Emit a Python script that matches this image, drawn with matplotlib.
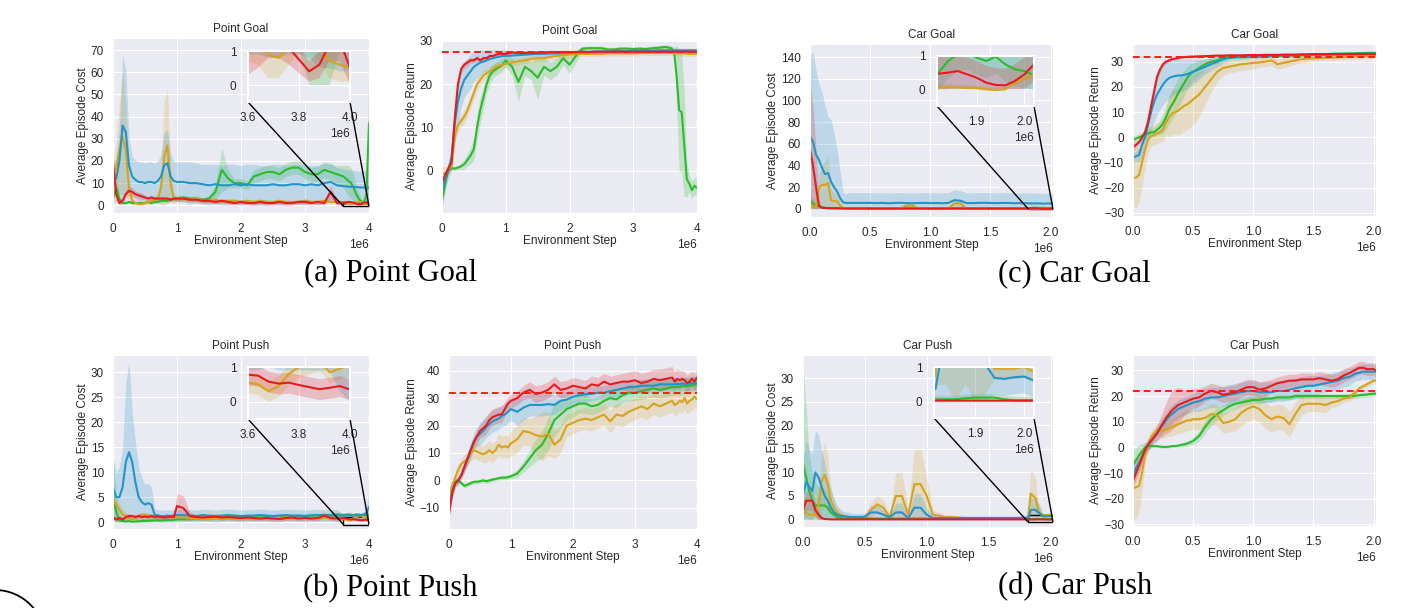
import numpy as np
import matplotlib
matplotlib.use("Agg")
import matplotlib.pyplot as plt
import seaborn as sns
from matplotlib.patches import Ellipse
from mpl_toolkits.axes_grid1.inset_locator import mark_inset

sns.set_style("darkgrid")
plt.rcParams['font.family'] = ['Liberation Sans', 'DejaVu Sans']
plt.rcParams['font.size'] = 8.5
plt.rcParams['axes.labelsize'] = 8.5
plt.rcParams['axes.titlesize'] = 8.5
plt.rcParams['xtick.labelsize'] = 8.5
plt.rcParams['ytick.labelsize'] = 8.5

# ---------------- x grids (in units of 1e6 environment steps) ----------------
X_POINT = np.round(np.r_[np.arange(0, 1.0001, 0.05), np.arange(1.1, 3.5001, 0.1),
                         np.arange(3.6, 4.0001, 0.04)], 3)
X_CAR = np.round(np.r_[np.arange(0, 0.5001, 0.025), np.arange(0.55, 1.8001, 0.05),
                       np.arange(1.82, 2.0201, 0.02)], 3)

# ---------------- Point Goal : cost ----------------
pgc_blue = [15, 12, 20, 36, 33, 18, 13, 11.5, 10.5, 10.5, 10, 10.5, 10.5, 10, 11, 13, 18, 19, 13, 11, 10.5] + \
    [10.5, 10, 10, 9.5, 9, 9.5, 9, 9, 9.5, 9, 9.5, 9, 9, 9, 9.5, 9, 9, 9.5, 9.5, 9, 9.5, 9, 10, 10.5, 9] + \
    [8.6, 8.5, 8.4, 8.3, 8.3, 8.2, 8.1, 8.0, 8.0, 8.0, 8.0]
pgc_blue_hw = [6, 8, 15, 32, 28, 12, 9, 9, 9, 9, 9, 9, 9, 9, 9, 10, 15, 15, 10, 9, 9] + \
    [9, 9.5, 9, 9, 9.5, 9, 9, 9.5, 9, 9, 9, 9.5, 9, 9, 9, 9.5, 9, 9, 9, 9, 8.5, 9, 9, 8.5, 8] + \
    [7.7, 7.6, 7.6, 7.5, 7.4, 7.3, 7.3, 7.5, 7.5, 7.6, 7.6]
pgc_gold = [10, 17, 25, 31, 25, 8, 2, 1, 0.5, 0.5, 1, 1.5, 2, 2.5, 3, 8, 22, 27, 10, 3, 3] + \
    [3, 2.5, 3, 2, 2, 2.5, 1.5, 2, 2, 1.5, 2, 1.5, 2, 1.5, 1.5, 2, 1.5, 1.5, 1.5, 2, 1.5, 1.5, 2, 1.5, 1.5] + \
    [1.3, 1.2, 0.9, 0.8, 1.1, 1.4, 1.5, 1.2, 0.7, 0.6, 0.5]
pgc_gold_hw = [8, 12, 20, 30, 20, 6, 2, 1, 0.5, 0.5, 1, 1, 1.5, 1.5, 2, 8, 25, 26, 8, 2, 1.5] + \
    [1.5, 1.2, 1.5, 1, 1, 1.2, 0.8, 1, 1, 0.8, 1, 0.8, 1, 0.8, 0.8, 1, 0.8, 0.8, 0.8, 1, 0.8, 0.8, 1, 0.8, 0.8] + \
    [0.6, 0.6, 0.7, 0.6, 0.5, 0.5, 0.5, 0.5, 0.5, 0.5, 0.4]
pgc_red = [19, 5, 1, 2, 5, 6.5, 6, 5, 4.5, 4, 3.5, 3, 3.5, 3, 3, 3, 3, 3, 2.5, 3, 3] + \
    [3, 2.5, 2.5, 2, 2, 1.5, 2, 1.5, 1, 1.5, 1, 1, 1.5, 1, 1, 1.5, 1, 1, 1.5, 1.5, 1, 1.5, 1, 6, 1] + \
    [1.2, 1.3, 1.5, 1.4, 1.1, 0.75, 0.4, 0.6, 1.2, 1.3, 0.5]
pgc_red_hw = [3, 3, 1, 1.5, 2, 2, 2, 1.5, 1.5, 1.5, 1, 1, 1, 1, 1, 1, 1, 1, 1, 1, 1] + \
    [1, 1, 1, 1, 1, 1, 1, 1, 1, 1, 1, 1, 1, 1, 1, 1, 1, 1, 1, 1, 1, 1, 1, 3, 1] + \
    [0.9, 0.8, 0.7, 0.6, 0.5, 0.4, 0.3, 0.4, 0.5, 0.6, 0.5]
pgc_green = [3, 8, 3, 1, 1, 1.5, 1, 1, 1, 1, 1, 1.5, 1, 1.5, 1.5, 2, 2, 2, 2.5, 3, 3] + \
    [3.5, 3, 3, 2.5, 3, 6, 16, 12, 10, 10, 9, 13, 14, 15, 15, 14, 16, 17, 17, 15, 14, 14, 16, 15, 14] + \
    [13, 12, 11, 10, 8, 5, 3, 1.5, 1, 5, 37]
pgc_green_hw = [2, 6, 2, 0.5, 0.5, 0.5, 0.5, 0.5, 0.5, 0.5, 0.5, 0.5, 0.5, 0.5, 0.5, 1, 1, 1, 1, 1, 1] + \
    [1, 1, 1, 1, 1.5, 3, 10, 4, 2, 2, 2, 3, 3, 3, 3, 3, 3, 3, 3, 3, 3, 3.5, 3.5, 3.5, 4] + \
    [5, 6, 7, 7, 6, 4, 3, 1.5, 1, 4, 35]

# ---------------- Point Goal : return ----------------
pgr_red = [-3, -1, 0.5, 2, 12, 20, 23.5, 24.5, 25, 25.5, 25.5, 26, 25.5, 26, 26, 26.5, 26.5, 26.8, 27, 27, 27] + \
    [27.3, 27.2, 27.2, 27.2, 27.3, 27.3, 27.4, 27.4, 27.4, 27.4, 27.4, 27.5, 27.4, 27.5, 27.5, 27.5, 27.5, 27.5,
     27.5, 27.5, 27.5, 27.5, 27.5, 27.5, 27.5] + \
    [27.5, 27.5, 27.5, 27.5, 27.5, 27.5, 27.5, 27.5, 27.5, 27.5, 27.4]
pgr_red_hw = [1, 1, 1, 1.5, 2, 1.5, 1, 0.8, 0.8, 0.6, 0.6, 0.6, 0.6, 0.5, 0.5, 0.5, 0.5, 0.5, 0.5, 0.5, 0.5] + \
    [0.4] * 25 + [0.4] * 11
pgr_blue = [-5, -2, 0, 3, 11, 16, 19, 21, 22, 23, 24, 24.5, 25, 25.2, 25.5, 25.8, 26, 26.2, 26.3, 26.5, 26.5] + \
    [26.6, 26.7, 26.8, 26.9, 27, 27, 27.1, 27.1, 27.2, 27.3, 27.3, 27.4, 27.4, 27.5, 27.5, 27.5, 27.6, 27.6,
     27.6, 27.7, 27.7, 27.7, 27.7, 27.8, 27.8] + \
    [27.8] * 11
pgr_blue_hw = [2, 2, 2, 3, 5, 5, 4.5, 4, 4, 4, 3.5, 3, 3, 2.5, 2.5, 2, 2, 1.8, 1.5, 1.5, 1.2] + \
    [1, 1, 0.9, 0.8, 0.8, 0.7, 0.7, 0.6, 0.6, 0.5, 0.5, 0.5, 0.5, 0.5, 0.5, 0.5, 0.5, 0.5, 0.5, 0.5, 0.5, 0.5,
     0.5, 0.5, 0.5] + \
    [0.5] * 11
pgr_gold = [-1, -0.5, 0, 1, 8, 10.5, 11.5, 12.5, 14, 16, 18, 20, 21, 22, 22.5, 23, 23.5, 24, 24.3, 24.5, 24.7] + \
    [25, 25.3, 25.5, 25.8, 26, 26, 26.3, 26.5, 26.7, 26.8, 27, 27, 27, 27, 27, 27.1, 27.1, 27.1, 27.1, 27.1,
     27.2, 27.2, 27.2, 27.2, 27.2] + \
    [27.2, 27.2, 27.1, 27.1, 27.1, 27.1, 27, 27, 27, 27, 27]
pgr_gold_hw = [2, 1.5, 1, 1, 1.5, 1.5, 1.5, 1.5, 1.5, 1.5, 1.5, 1.5, 1.2, 1.2, 1, 1, 1, 1, 1, 0.8, 0.8] + \
    [0.8] * 10 + [0.6] * 15 + [0.6] * 11
pgr_green = [-7, -3, 0.3, 0.5, 0.5, 0.7, 1, 1.5, 2.5, 3.5, 5, 10, 14, 17, 20, 22, 23, 23.5, 24, 24.5, 25.5] + \
    [24, 20.5, 24, 23, 21.5, 24, 23, 24, 26, 24.5, 26.5, 28.2, 28.3, 28.3, 28.3, 28, 28, 28.2, 28.2, 28.1,
     28.2, 28.1, 28.3, 28.4, 28.6] + \
    [28.3, 27.5, 22, 14, 13.5, 6, -2, -3, -4.5, -3.5, -4]
pgr_green_hw = [2, 2, 0.5, 0.5, 0.5, 0.5, 0.8, 1, 1.5, 2, 2.5, 3, 3, 2.5, 2, 2, 1.5, 1.5, 1.5, 1.5, 1.5] + \
    [2, 4.5, 2, 2, 5, 2, 2, 2, 1.5, 2, 1.5] + [0.5] * 14 + \
    [0.5, 1, 7, 14, 14, 12, 4, 2, 2, 2, 2]

# ---------------- Car Goal : cost ----------------
cgc_blue = [67, 62, 50, 45, 38, 32, 33, 25, 20, 16, 10, 6, 5.5, 5.5, 5.5, 5.5, 5.5, 5.5, 5.5, 5.5, 5.5] + \
    [5.3, 5.5, 5.2, 5.4, 5.6, 5.3, 5.2, 5.4, 5.5, 5.3, 5.4, 5.2, 5.5, 8, 7.5, 5.4, 5.3, 5.5, 5.6, 5.4, 5.3,
     5.5, 5.4, 5.2, 5.3, 5.2] + \
    [5.1, 5.0, 5.0, 5.1, 5.0, 4.9, 4.8, 4.9, 5.0, 4.9, 4.8]
cgc_blue_hw = [73, 83, 78, 70, 70, 63, 52, 57, 50, 39, 25, 9, 8.5, 9.5, 9.5, 9.5, 9.5, 9.5, 9.5, 9.5, 9.5] + \
    [9.5] * 26 + [9.5] * 11
cgc_red = [55, 40, 20, 3, 1, 0.8, 0.6, 0.5, 0.5, 0.4, 0.4, 0.4, 0.3, 0.3, 0.3, 0.3, 0.3, 0.3, 0.3, 0.3, 0.3] + \
    [0.3] * 26 + \
    [0.47, 0.5, 0.55, 0.45, 0.35, 0.2, 0.13, 0.12, 0.25, 0.45, 0.75]
cgc_red_hw = [65, 55, 35, 6, 2, 1, 0.8, 0.6, 0.5, 0.5, 0.5, 0.5, 0.5, 0.5, 0.5, 0.5, 0.5, 0.5, 0.5, 0.5, 0.5] + \
    [0.5] * 26 + [0.5] * 11
cgc_gold = [3, 2, 2, 20, 22, 22, 24, 8, 7, 7, 3, 1, 0.5, 0.4, 0.3, 0.3, 0.3, 0.3, 0.3, 0.3, 0.3] + \
    [0.3, 0.3, 0.3, 0.3, 0.3, 3, 3, 0.5, 0.4, 0.3, 0.3, 0.3, 0.3, 5, 5, 0.3, 0.2, 0.2, 0.2, 0.2, 0.2, 0.2,
     0.2, 0.2, 0.2, 0.2] + \
    [0.05, 0.07, 0.05, 0.05, 0.04, 0.0, -0.02, 0.0, 0.2, 0.32, 0.45]
cgc_gold_hw = [2, 2, 2, 12, 18, 22, 25, 10, 8, 6, 3, 1, 0.5, 0.3, 0.3, 0.3, 0.3, 0.3, 0.3, 0.3, 0.3] + \
    [0.3, 0.3, 0.3, 0.3, 0.3, 2.5, 2.5, 0.3, 0.3, 0.3, 0.3, 0.3, 0.3, 4, 4, 0.3, 0.2, 0.2, 0.2, 0.2, 0.2,
     0.2, 0.2, 0.2, 0.2, 0.2] + \
    [0.08] * 11
cgc_green = [8, 5, 3, 2, 1.5, 1, 0.8, 0.8, 0.8, 0.7, 0.7, 0.6, 0.6, 0.6, 0.6, 0.6, 0.6, 0.6, 0.6, 0.6, 0.6] + \
    [0.5] * 26 + \
    [0.5, 0.85, 1.05, 1.1, 0.95, 0.85, 0.98, 0.75, 0.6, 0.55, 0.42]
cgc_green_hw = [6, 4, 3, 2, 1, 0.8, 0.6] + [0.5] * 14 + [0.5] * 26 + [0.5] * 11

# ---------------- Car Goal : return ----------------
cgr_red = [-4, -3, -2, 0, 2, 6, 12, 18, 24, 27, 29, 30, 30.5, 31, 31.2, 31.5, 31.7, 31.8, 31.9, 32, 32] + \
    [32.1, 32.2, 32.3, 32.4, 32.4, 32.5, 32.5, 32.5, 32.6, 32.6, 32.6, 32.7, 32.7, 32.7, 32.8, 32.8, 32.8,
     32.9, 32.9, 33, 33, 33, 33, 33, 33, 33] + \
    [33] * 11
cgr_red_hw = [1.5, 1.5, 1, 1, 1, 1.2, 1.5, 1.5, 1.5, 1.2, 1, 0.8, 0.6, 0.5, 0.5, 0.5, 0.5, 0.5, 0.5, 0.5, 0.5] + \
    [0.5] * 26 + [0.5] * 11
cgr_blue = [-8, -7.5, -7, -3, 0, 5, 10, 14, 17, 19, 21, 22.5, 23.5, 24, 24.3, 24.5, 24.5, 24.8, 25, 25.5, 26] + \
    [27, 28, 29, 30, 31, 31.5, 31.7, 31.8, 31.9, 32, 32, 32.1, 32.2, 32.3, 32.3, 32.4, 32.5, 32.6, 32.6, 32.7,
     32.8, 32.8, 32.9, 32.9, 33, 33] + \
    [33, 33, 33, 33.1, 33.1, 33.1, 33.2, 33.2, 33.2, 33.2, 33.2]
cgr_blue_hw = [2, 2, 3, 4, 5, 6, 7, 8, 8, 8, 8, 8, 8, 7.5, 7, 7, 6.5, 6, 6, 5.5, 5] + \
    [4, 3, 2.5, 2, 1.5, 1, 1, 0.8, 0.8, 0.6] + [0.6] * 16 + [0.6] * 11
cgr_green = [-1, -0.5, 0, 0.5, 1, 1.5, 2, 2, 3, 4, 5.5, 8, 11, 13, 15, 17.5, 19.5, 21.5, 23.5, 25, 26] + \
    [27.5, 29, 30, 30.5, 31.3, 31.8, 32, 32, 32.1, 32.2, 32.2, 32.3, 32.4, 32.5, 32.5, 32.6, 32.6, 32.7, 32.7,
     32.8, 32.9, 33, 33.1, 33.2, 33.2, 33.3] + \
    [33.3, 33.3, 33.4, 33.4, 33.4, 33.4, 33.5, 33.5, 33.5, 33.5, 33.5]
cgr_green_hw = [1.5, 1.5, 1.5, 1.5, 1.5, 1.5, 1.5, 2, 2, 3, 4, 5, 5.5, 6, 6, 6, 5.5, 5, 4.5, 4, 3.5] + \
    [3, 2, 1.5, 1.2, 1, 0.8] + [0.6] * 20 + [0.5] * 11
cgr_gold = [-16, -16, -15, -10, -5, -1, 0.5, 1, 1.5, 2, 3, 6, 8, 9.5, 10, 10.5, 11.5, 12.5, 13, 14, 15] + \
    [17, 20, 23, 26, 27.5, 28, 28.5, 29, 29.2, 29.5, 29.7, 30, 30.5, 29, 29.5, 30, 30.5, 31, 31.2, 31.3, 31.4,
     31.5, 31.6, 31.7, 31.8, 32] + \
    [32, 32, 32.1, 32.1, 32.1, 32.2, 32.2, 32.2, 32.3, 32.3, 32.3]
cgr_gold_hw = [11, 12, 11, 9, 7, 5, 4, 4, 4, 4, 4.5, 5, 8, 8.5, 9, 9.5, 10, 10, 10, 10, 10] + \
    [9, 7, 5, 4, 3, 2.5, 2.5, 2.5, 2.5, 2.5, 2, 2, 2, 2, 2, 1.8, 1.5, 1.5, 1.2, 1.2, 1, 1, 1, 1, 1, 1] + \
    [1] * 11

# ---------------- Point Push : cost ----------------
ppc_blue = [7, 5, 5, 7, 12, 14, 12, 8, 5, 4, 3.5, 3.8, 3.5, 1.5, 1.3, 1.2, 1.2, 1.3, 1.2, 1.3, 1.4] + \
    [1.4, 1.3, 1.2, 1.4, 1.3, 1.2, 1.3, 1.4, 1.3, 1.2, 1.3, 1.3, 1.4, 1.3, 1.2, 1.3, 1.4, 1.3, 1.3, 1.2, 1.3,
     1.4, 1.3, 1.3, 1.3] + \
    [1.3, 1.3, 1.4, 1.3, 1.3, 1.4, 1.3, 1.3, 1.5, 1.8, 3.0]
ppc_blue_hw = [6, 5, 6, 8, 16, 18, 10, 8, 6, 5, 4, 4, 3.5, 1.2, 1.2, 1.2, 1.2, 1.2, 1.2, 1.2, 1.2] + \
    [1.2] * 25 + \
    [0.4, 0.4, 0.4, 0.4, 0.4, 0.5, 0.4, 0.4, 0.6, 1.5, 3]
ppc_red = [1, 0.5, 0.8, 0.5, 1, 1.2, 1.2, 1, 1.2, 1, 1.1, 1, 1.2, 1, 1.1, 1, 0.9, 1, 1.1, 1, 3.2] + \
    [2.8, 1.2, 1.0, 0.9, 1, 1.1, 0.9, 1, 0.9, 0.8, 0.9, 0.8, 0.7, 0.8, 0.7, 0.6, 0.8, 0.9, 0.7, 0.8, 0.7, 0.8,
     1.3, 0.8, 0.7] + \
    [0.78, 0.75, 0.58, 0.52, 0.55, 0.48, 0.42, 0.36, 0.4, 0.45, 0.35]
ppc_red_hw = [0.5] * 20 + [2.5] + [2.5, 0.8] + [0.5] * 23 + [0.3] * 11
ppc_gold = [4.5, 3.5, 2.5, 1.5, 1.2, 0.8, 0.5, 0.8, 1.2, 1.5, 1.5, 1.3, 1.2, 1.0, 1.0, 0.9, 1.0, 1.1, 1.0, 0.9, 1.0] + \
    [0.9, 0.8, 0.8, 0.7, 0.6, 0.7, 0.7, 0.8, 0.7, 0.7, 0.8, 0.8, 0.9, 0.8, 0.8, 0.9, 0.9, 0.9, 0.8, 0.9, 0.9,
     0.8, 0.8, 0.9, 0.8] + \
    [0.55, 0.5, 0.3, 0.45, 0.8, 1.0, 1.1, 1.2, 0.85, 0.95, 1.05]
ppc_gold_hw = [1.5, 1.5, 1.2, 1, 0.8, 0.6] + [0.5] * 15 + [0.5] * 25 + [0.3] * 11
ppc_green = [5, 2, 0.3, 0.2, 0.1, 0.2, 0.05, 0.1, 0.15, 0.2, 0.2, 0.25, 0.3, 0.3, 0.35, 0.3, 0.35, 0.4, 0.4, 0.45, 0.5] + \
    [0.6, 0.7, 0.8, 0.8, 0.8, 0.9, 0.9, 0.9, 0.9, 0.9, 1.0, 1.0, 1.0, 1.0, 1.0, 1.1, 1.1, 1.1, 1.2, 1.2, 1.3,
     1.3, 1.4, 1.4, 1.5] + \
    [1.4, 1.5, 1.5, 1.5, 1.4, 1.5, 1.5, 1.4, 1.5, 1.4, 1.5]
ppc_green_hw = [8, 4, 1] + [0.5] * 18 + [0.5] * 25 + [0.3] * 11

# ---------------- Point Push : return ----------------
ppr_red = [-12, -5, -1, 0, 2, 5, 8, 11, 14, 16, 18, 19, 20, 22, 23, 23.5, 24, 24, 26, 28, 29] + \
    [30, 32, 33, 31.5, 32, 33, 35, 33, 33.5, 34.5, 34, 33.5, 35, 34.5, 36, 35, 35.5, 36, 36, 36.5, 35.5, 36,
     37, 36.5, 37] + \
    [37.5, 36, 37, 36.5, 37, 36.5, 35.5, 36, 37, 36, 37.5]
ppr_red_hw = [2, 2, 1.5, 1.5, 1.5, 2, 2, 2, 2, 2.5, 2.5, 3, 3, 3, 3, 3, 3, 3, 2.5, 2.5, 2.5] + \
    [2.5, 2.5] + [3] * 16 + [3.5] * 5 + [4, 4] + \
    [4, 3.5, 3.5, 3.5, 3, 3, 3, 3, 3, 3, 3]
ppr_blue = [-11, -4, -1, 0, 2, 5, 8, 11, 14, 16, 17, 18, 19.5, 20.5, 21.5, 22, 22.5, 23.5, 24, 25, 26] + \
    [25, 26.5, 27.5, 27.5, 27.5, 27.8, 27.5, 29, 29.5, 30.5, 31, 31.5, 31.5, 32, 32, 32.5, 33, 33.5, 34, 34,
     34.5, 34.5, 34.5, 35, 35] + \
    [35, 35, 35.2, 35, 35.3, 35.2, 35, 35.3, 35.5, 35.3, 35.5]
ppr_blue_hw = [2, 2, 1.5, 1.5, 1.5, 2, 2.5, 3, 3, 3.5, 4, 4, 4, 4, 4, 4, 4, 4, 4, 4, 4] + \
    [5, 4.5, 4, 4, 4, 4, 3.5, 3.5, 3, 3, 3, 3] + [2.5] * 13 + [2.5] * 11
ppr_green = [-10, -3, -0.5, 0, -1, -2, -1.5, -1, -0.5, -0.5, -0.3, 0, -0.3, 0, 0.3, 0.5, 0.8, 1, 1, 1.2, 1.5] + \
    [2.5, 5, 8, 11, 13, 17, 22, 24, 26, 27, 28, 28, 27, 27.5, 29, 30, 29.5, 31, 32, 32, 32.5, 33, 33.5, 33,
     33.5] + \
    [34, 34, 34.2, 34, 34.3, 34.5, 34.3, 34.5, 34.7, 34.8, 35]
ppr_green_hw = [2, 1.5, 1] + [0.8] * 17 + [1] + \
    [1.5, 2, 3, 4, 5, 6, 6, 5, 4, 4, 3.5, 3.5] + [3] * 13 + [3] * 11
ppr_gold = [-5, -2, 1, 4, 6, 7, 8, 10, 11, 10.5, 10, 9.5, 10, 11, 10, 11, 13, 12, 12.5, 12, 13.5] + \
    [15, 18, 17.5, 16.5, 16, 17, 13, 15, 20, 21, 22, 22.5, 22, 23, 24, 21.5, 24, 23.5, 25, 26, 27, 26, 28, 27,
     28] + \
    [29, 27.5, 28, 29, 28.5, 30, 28, 29, 29.5, 30.5, 29.5]
ppr_gold_hw = [2, 2, 2, 2, 2, 2.5, 2.5, 3, 3, 3, 3, 3, 3.5, 3.5, 3.5, 3.5, 4, 4, 4, 4, 4.5] + \
    [5, 5, 5, 7, 9, 8, 5, 5] + [4] * 17 + [4] * 11

# ---------------- Car Push : cost ----------------
cpc_green = [12, 9, 6, 4, 3, 3, 3, 3, 2.5, 1.5, 1, 0.5, 0.3, 0.2, 0.2, 0.2, 0.2, 0.2, 0.2, 0.3, 0.3] + \
    [0.2] * 26 + \
    [0.05, 0.05, 0.05, 0.08, 0.1, 0.1, 0.1, 0.05, 0.02, 0.02, 0.02]
cpc_green_hw = [21, 15, 8, 6, 5, 4, 4, 3.5, 3, 2, 1.5, 0.8, 0.5] + [0.3] * 8 + [0.3] * 26 + [0.1] * 11
cpc_blue = [5, 8, 7, 6, 10, 9, 7, 5, 4, 2.5, 1.5, 1, 0.8, 0.7, 0.6, 0.55, 0.5, 0.5, 0.5, 0.5, 0.6] + \
    [1.5, 1.5, 1, 0.5, 1.5, 1.5, 0.3, 2.5, 2.5, 1] + [0.3] * 15 + [0.35] + \
    [0.35, 2.0, 2.1, 2.0, 1.5, 1.1, 0.68, 0.65, 0.7, 0.72, 0.6]
cpc_blue_hw = [8, 9, 8, 8, 9, 9, 8, 7, 5, 4, 3, 2, 1.5, 1, 1, 1, 0.8, 0.8, 0.8, 0.8, 0.8] + \
    [1.5, 1.5, 1, 0.5, 2, 2, 0.5, 3, 3, 1.5] + [0.5] * 16 + \
    [0.3, 2.5, 2.5, 2.5, 2, 1.5, 0.5, 0.5, 0.5, 0.5, 0.5]
cpc_gold = [2, 1.5, 1, 1, 1, 3, 8, 9.5, 7.5, 4, 2.5, 1.5, 1, 0.8, 0.6, 0.5, 0.5, 0.5, 0.5, 0.5, 0.5] + \
    [2, 3.2, 2.5, 0.5, 5, 5, 1, 7.5, 7.5, 5, 1, 0.8, 0.5, 0.5, 0.4] + [0.3] * 11 + \
    [0.75, 5.5, 5, 4.5, 2, 1.2, 0.95, 0.95, 0.95, 1.0, 0.85]
cpc_gold_hw = [1, 1, 1, 1, 1, 3, 6, 7, 6, 3, 2, 1, 0.8] + [0.5] * 8 + \
    [1.5, 2, 1.5, 0.5, 5, 5, 1, 7.5, 7.5, 4, 1, 0.8, 0.5, 0.5, 0.4] + [0.3] * 11 + \
    [0.3, 5, 5, 4, 2, 1, 0.3, 0.3, 0.3, 0.3, 0.3]
cpc_red = [2, 4, 4, 4, 2, 1, 0.3, 0.1, 0.05] + [0.02] * 12 + [0.02] * 26 + [0.01] * 11
cpc_red_hw = [2, 2, 2, 2, 1.5, 1, 0.5, 0.2, 0.1] + [0.03] * 12 + [0.03] * 26 + [0.02] * 11

# ---------------- Car Push : return ----------------
cpr_red = [-13, -10, -7, -4, -1, 1, 2.5, 4, 5.5, 7.5, 9.5, 11.5, 13, 14.5, 15.5, 16.5, 17, 17.5, 18, 18.5, 19] + \
    [19.5, 21, 22, 21.5, 20.5, 21, 21.5, 22.5, 23.5, 23.5, 22.5, 23, 24, 25, 25.5, 26, 26, 26.5, 26.5, 26.5,
     27, 26.5, 26, 26.5, 28, 29] + \
    [29.5, 30, 30.5, 31, 31, 31, 30.5, 30.5, 30.5, 30.5, 30]
cpr_red_hw = [3, 3, 3, 2.5, 2, 2, 2, 2, 3, 4, 5, 6, 7, 7.5, 7.5, 7, 6, 5, 4.5, 4, 4] + \
    [3.5, 3, 3, 3, 3, 3, 3, 3, 3, 3, 3, 3] + [2.5] * 14 + [2.5] * 11
cpr_blue = [-11, -8, -6, -3.5, -1, 1, 2.5, 4, 5.5, 7.5, 9, 10.5, 12, 13, 14, 15, 15.5, 16, 16.5, 17, 17.5] + \
    [18, 19, 19.5, 19.5, 20, 20.5, 21, 21.5, 22, 22, 21.5, 21.5, 21.5, 22, 22, 22.5, 23, 23.5, 24, 24, 24.5,
     25, 25.5, 26, 27, 27.5] + \
    [28, 28.5, 29, 29, 29.5, 29.5, 29.5, 29.5, 29.5, 29.5, 29.5]
cpr_blue_hw = [3, 3, 3, 3, 2.5, 2.5, 2.5, 2.5, 2.5, 3, 3, 3, 3.5, 3.5, 3.5, 3.5, 3.5, 3.5, 3.5, 3.5, 3.5] + \
    [4] * 20 + [3.5] * 6 + [3] * 11
cpr_green = [-7, -5, -3, -1.5, 0, 0.5, 0.5, 0.5, 0.5, 0.3, 0.2, 0.2, 0.3, 0.5, 0.5, 0.7, 1, 1.2, 1.5, 2, 2.5] + \
    [4.5, 8, 11, 13, 14.5, 16, 17, 17.5, 18, 18.5, 18.5, 19, 19, 19.5, 19.5, 19.5] + [20] * 10 + \
    [20, 20.1, 20.2, 20.3, 20.4, 20.5, 20.6, 20.7, 20.8, 20.9, 21]
cpr_green_hw = [6, 5, 4, 3, 2, 1, 0.8, 0.5, 0.5, 0.5, 0.5, 0.5, 0.5, 0.5, 0.5, 0.5, 0.8, 0.8, 1, 1, 1.5] + \
    [2, 2.5, 2.5, 2.5, 2, 2, 2, 1.5, 1.5, 1.5, 1.5, 1.5] + [1] * 14 + [1] * 11
cpr_gold = [-16, -15.5, -15, -10, -3, 1, 4, 5.5, 7, 7, 6.5, 7, 7.5, 8, 8.5, 9, 9.5, 10, 10.5, 10.5, 11] + \
    [11, 11.5, 13, 12.5, 9.5, 10, 11, 13.5, 15, 16, 15, 12.5, 11, 12, 11.5, 9, 13, 16.5, 17, 17, 17, 16.5,
     17.5, 18, 19, 19.5] + \
    [20.5, 21, 22, 23, 23.5, 24, 24.5, 25, 25.5, 26, 26]
cpr_gold_hw = [12, 12, 10, 7, 4, 3, 2.5, 2.5, 2.5, 2.5, 3, 3, 3, 3.5, 3.5, 3.5, 4, 4, 4, 4, 4] + \
    [4, 4, 4, 4, 4, 4, 4.5, 5, 5, 5, 5, 5, 5, 5, 5, 5, 4.5, 4, 3, 3, 3, 3, 2, 2, 1.5, 1.5] + \
    [1.5, 1.5, 1, 1, 1, 1, 1, 1, 1, 1, 1]

# reference return levels (dashed lines)
pg_ref, cg_ref, pp_ref, cp_ref = 27.5, 32, 32, 22

# ---------------- styling ----------------
RED, BLUE, GREEN, GOLD = '#e61b1e', '#2394c6', '#2cbb2c', '#d6a31e'
W, H = 1405, 608


def rect_px(l, r, t, b):
    return [l / W, 1 - b / H, (r - l) / W, (b - t) / H]


def draw(ax, x, series, cost):
    for mean, hw, col in series:
        m = np.asarray(mean, float)
        h = np.asarray(hw, float)
        assert len(m) == len(x) and len(h) == len(x), (len(m), len(h), len(x))
        lo, hi = m - h, m + h
        if cost:
            lo = np.clip(lo, 0, None)
        ax.fill_between(x * 1e6, lo, hi, color=col, alpha=0.22, lw=0)
        ax.plot(x * 1e6, m, color=col, lw=1.5)


fig = plt.figure(figsize=(W / 100, H / 100), dpi=100)

panels = [
    dict(rect=(113, 369, 38, 213), x=X_POINT, cost=True, title='Point Goal',
         series=[(pgc_green, pgc_green_hw, GREEN), (pgc_gold, pgc_gold_hw, GOLD),
                 (pgc_blue, pgc_blue_hw, BLUE), (pgc_red, pgc_red_hw, RED)],
         ylim=(-3.5, 75.5), yticks=range(0, 71, 10), xlim=(0, 4e6), xticks=[0, 1e6, 2e6, 3e6, 4e6],
         inset=(248, 350, 51, 102), ixlim=(3.6e6, 4.0e6), ixticks=[3.6e6, 3.8e6, 4.0e6]),
    dict(rect=(442, 697, 40, 213), x=X_POINT, cost=False, title='Point Goal',
         series=[(pgr_green, pgr_green_hw, GREEN), (pgr_gold, pgr_gold_hw, GOLD),
                 (pgr_blue, pgr_blue_hw, BLUE), (pgr_red, pgr_red_hw, RED)],
         ylim=(-9.8, 30.2), yticks=[0, 10, 20, 30], xlim=(0, 4e6), xticks=[0, 1e6, 2e6, 3e6, 4e6], ref=pg_ref),
    dict(rect=(810, 1053, 44, 217), x=X_CAR, cost=True, title='Car Goal',
         series=[(cgc_green, cgc_green_hw, GREEN), (cgc_gold, cgc_gold_hw, GOLD),
                 (cgc_blue, cgc_blue_hw, BLUE), (cgc_red, cgc_red_hw, RED)],
         ylim=(-7.5, 152), yticks=range(0, 141, 20), xlim=(0, 2.02e6),
         xticks=[0, 0.5e6, 1e6, 1.5e6, 2e6],
         inset=(937, 1034, 56, 106), ixlim=(1.817e6, 2.02e6), ixticks=[1.9e6, 2.0e6]),
    dict(rect=(1133, 1376, 44, 216), x=X_CAR, cost=False, title='Car Goal',
         series=[(cgr_green, cgr_green_hw, GREEN), (cgr_gold, cgr_gold_hw, GOLD),
                 (cgr_blue, cgr_blue_hw, BLUE), (cgr_red, cgr_red_hw, RED)],
         ylim=(-31.2, 37), yticks=range(-30, 31, 10), xlim=(0, 2.02e6),
         xticks=[0, 0.5e6, 1e6, 1.5e6, 2e6], ref=cg_ref),
    dict(rect=(113, 369, 355, 529), x=X_POINT, cost=True, title='Point Push',
         series=[(ppc_green, ppc_green_hw, GREEN), (ppc_gold, ppc_gold_hw, GOLD),
                 (ppc_blue, ppc_blue_hw, BLUE), (ppc_red, ppc_red_hw, RED)],
         ylim=(-1.4, 33.5), yticks=range(0, 31, 5), xlim=(0, 4e6), xticks=[0, 1e6, 2e6, 3e6, 4e6],
         inset=(248, 350, 367, 419), ixlim=(3.6e6, 4.0e6), ixticks=[3.6e6, 3.8e6, 4.0e6]),
    dict(rect=(449, 697, 355, 529), x=X_POINT, cost=False, title='Point Push',
         series=[(ppr_green, ppr_green_hw, GREEN), (ppr_gold, ppr_gold_hw, GOLD),
                 (ppr_blue, ppr_blue_hw, BLUE), (ppr_red, ppr_red_hw, RED)],
         ylim=(-17.7, 45.7), yticks=range(-10, 41, 10), xlim=(0, 4e6), xticks=[0, 1e6, 2e6, 3e6, 4e6],
         ref=pp_ref),
    dict(rect=(803, 1053, 355, 527), x=X_CAR, cost=True, title='Car Push',
         series=[(cpc_green, cpc_green_hw, GREEN), (cpc_gold, cpc_gold_hw, GOLD),
                 (cpc_blue, cpc_blue_hw, BLUE), (cpc_red, cpc_red_hw, RED)],
         ylim=(-1.6, 35), yticks=range(0, 31, 5), xlim=(0, 2.02e6),
         xticks=[0, 0.5e6, 1e6, 1.5e6, 2e6],
         inset=(934, 1034, 367, 418), ixlim=(1.817e6, 2.02e6), ixticks=[1.9e6, 2.0e6]),
    dict(rect=(1133, 1376, 355, 526), x=X_CAR, cost=False, title='Car Push',
         series=[(cpr_green, cpr_green_hw, GREEN), (cpr_gold, cpr_gold_hw, GOLD),
                 (cpr_blue, cpr_blue_hw, BLUE), (cpr_red, cpr_red_hw, RED)],
         ylim=(-30.6, 36), yticks=range(-30, 31, 10), xlim=(0, 2.02e6),
         xticks=[0, 0.5e6, 1e6, 1.5e6, 2e6], ref=cp_ref),
]

for p in panels:
    ax = fig.add_axes(rect_px(*p['rect']))
    draw(ax, p['x'], p['series'], p['cost'])
    if 'ref' in p:
        ax.axhline(p['ref'], color='#ff1a1a', ls=(0, (3.5, 2)), lw=1.4, zorder=4)
    ax.set_xlim(*p['xlim'])
    ax.set_ylim(*p['ylim'])
    ax.set_xticks(p['xticks'])
    ax.set_yticks(list(p['yticks']))
    ax.tick_params(axis='x', pad=3.5)
    ax.tick_params(axis='y', pad=3)
    ax.set_title(p['title'], pad=4.5)
    ax.set_xlabel('Environment Step', labelpad=0.5)
    ax.set_ylabel('Average Episode Cost' if p['cost'] else 'Average Episode Return', labelpad=1.5)
    if 'inset' in p:
        axins = fig.add_axes(rect_px(*p['inset']))
        draw(axins, p['x'], p['series'], True)
        axins.set_xlim(*p['ixlim'])
        axins.set_ylim(-0.5, 1.0)
        axins.set_xticks(p['ixticks'])
        axins.set_yticks([0, 1])
        axins.tick_params(axis='x', pad=3.5)
        axins.tick_params(axis='y', pad=5)
        for s in axins.spines.values():
            s.set_color('white')
            s.set_linewidth(1.5)
        mark_inset(ax, axins, loc1=3, loc2=4, fc='none', ec='black', lw=1.0)

captions = [('(a) Point Goal', 390, 273), ('(c) Car Goal', 1074, 274),
            ('(b) Point Push', 390, 589), ('(d) Car Push', 1075, 587)]
for txt, cx, cy in captions:
    fig.text(cx / W, 1 - cy / H, txt, ha='center', va='center', fontsize=22,
             family=['Liberation Serif', 'DejaVu Serif'], color='black')

# decorative arc in the lower-left corner
fig.add_artist(Ellipse((-5 / W, -32 / H), 100 / W, 100 / H, transform=fig.transFigure,
                       fill=False, ec='black', lw=1.3))

fig.savefig('out.png', dpi=100, facecolor='white')
